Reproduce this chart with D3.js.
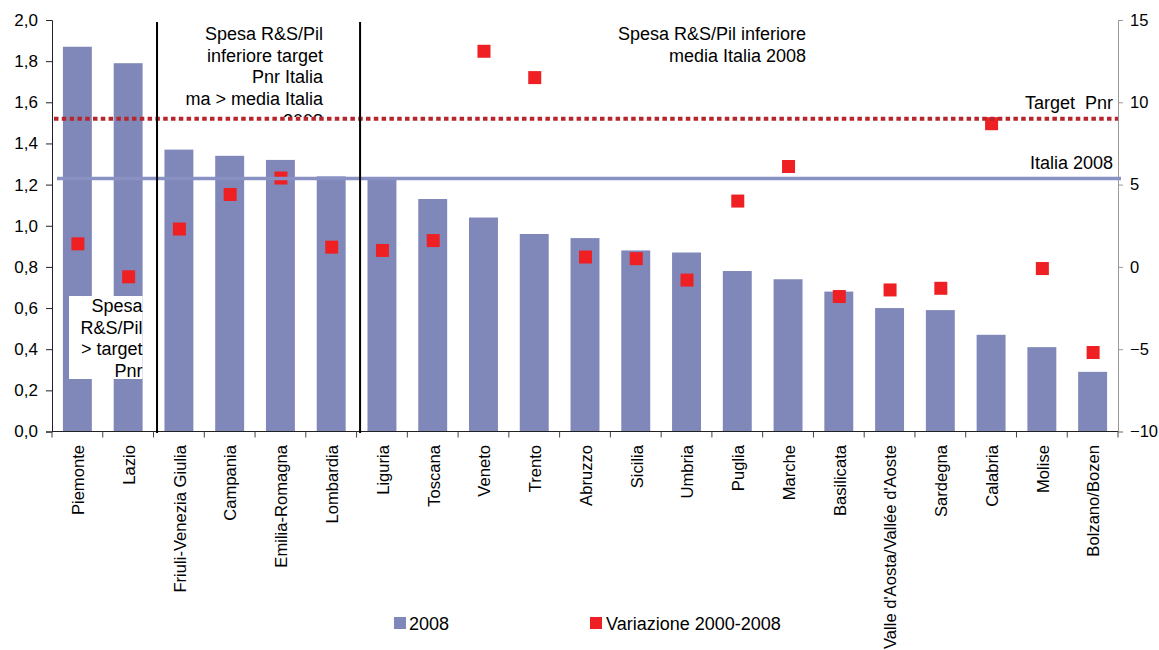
<!DOCTYPE html>
<html><head><meta charset="utf-8">
<script src="https://cdn.jsdelivr.net/npm/d3@7"></script>
<style>body{margin:0;background:#fff}svg{display:block;font-family:"Liberation Sans",Arial,sans-serif}</style>
</head><body><svg id="c" width="1159" height="650"></svg>
<script>
const categories = ["Piemonte","Lazio","Friuli-Venezia Giulia","Campania","Emilia-Romagna","Lombardia","Liguria","Toscana","Veneto","Trento","Abruzzo","Sicilia","Umbria","Puglia","Marche","Basilicata","Valle d'Aosta/Vallée d'Aoste","Sardegna","Calabria","Molise","Bolzano/Bozen"];
const spesa2008 = [1.87,1.79,1.37,1.34,1.32,1.24,1.23,1.13,1.04,0.96,0.94,0.88,0.87,0.78,0.74,0.68,0.60,0.59,0.47,0.41,0.29];
const variazione = [1.4,-0.6,2.3,4.4,5.4,1.2,1.0,1.6,13.1,11.5,0.6,0.5,-0.8,4.0,6.1,-1.8,-1.4,-1.3,8.7,-0.1,-5.2];
const leftTicks = [0,0.2,0.4,0.6,0.8,1.0,1.2,1.4,1.6,1.8,2.0];
const rightTicks = [-10,-5,0,5,10,15];
const italia2008 = 1.23;
const targetPnr = 1.52;
const seriesNames = ["2008","Variazione 2000-2008"];

const svg = d3.select("#c");
const x0 = 52, x1 = 1118, yTop = 20, yBot = 431.5;
const x = d3.scaleBand().domain(categories).range([x0,x1]).paddingInner(0.43).paddingOuter(0.215);
const xb = d3.scaleBand().domain(categories).range([x0,x1]).padding(0);
const yL = d3.scaleLinear().domain([0,2]).range([yBot,yTop]);
const yR = d3.scaleLinear().domain([-10,15]).range([yBot,yTop]);
const fmt = d => d3.format(".1f")(d).replace(".",",");
const barCol = "#8088b9", redCol = "#ee2024", lineCol = "#8a91c3", dotCol = "#b8262b";
const annFs = 18, tickFs = 17, catFs = 16.6;

// bars
svg.append("g").selectAll("rect").data(categories).join("rect")
  .attr("x", d=>x(d)).attr("width", x.bandwidth())
  .attr("y", (d,i)=>yL(spesa2008[i])).attr("height",(d,i)=>yBot-yL(spesa2008[i]))
  .attr("fill", barCol);

// white annotation box bottom-left
svg.append("rect").attr("x",69).attr("y",296).attr("width",x("Lazio")+x.bandwidth()-69).attr("height",83).attr("fill","#fff");
const t1 = svg.append("text").attr("text-anchor","end").attr("font-size",annFs).attr("fill","#000");
["Spesa","R&S/Pil","> target","Pnr"].forEach((s,i)=>t1.append("tspan").attr("x",x("Lazio")+x.bandwidth()).attr("y",312+i*21.7).text(s));

// squares
const sq = 13;
svg.append("g").selectAll("rect").data(categories).join("rect")
  .attr("x", d=>x(d)+x.bandwidth()/2-sq/2+0.5).attr("width", sq)
  .attr("y", (d,i)=>yR(variazione[i])-sq/2).attr("height", sq)
  .attr("fill", redCol);

// left axis
const gL = svg.append("g").attr("transform",`translate(${x0},0)`)
  .call(d3.axisLeft(yL).tickValues(leftTicks).tickFormat(fmt).tickSize(6).tickPadding(8));
gL.select(".domain").attr("stroke","#222");
gL.selectAll(".tick line").attr("stroke","#222");
gL.selectAll("text").attr("font-size",tickFs).attr("fill","#000").attr("font-family","Liberation Sans, Arial, sans-serif");

// right axis
const gR = svg.append("g").attr("transform",`translate(${x1},0)`)
  .call(d3.axisRight(yR).tickValues(rightTicks).tickSize(5).tickPadding(7));
gR.select(".domain").attr("stroke","#999");
gR.selectAll(".tick line").attr("stroke","#999");
gR.selectAll("text").attr("font-size",16.5).attr("fill","#000").attr("font-family","Liberation Sans, Arial, sans-serif");

// x axis
svg.append("line").attr("x1",x0).attr("x2",x1).attr("y1",yBot).attr("y2",yBot).attr("stroke","#222");
const bounds = categories.map(d=>xb(d)).concat([x1]);
svg.append("g").selectAll("line").data(bounds).join("line")
  .attr("x1",d=>d).attr("x2",d=>d).attr("y1",yBot).attr("y2",yBot+6).attr("stroke","#444");
svg.append("g").selectAll("text").data(categories).join("text")
  .attr("transform", d=>`translate(${x(d)+x.bandwidth()/2+1},445) rotate(-90)`)
  .attr("text-anchor","end").attr("dy","0.35em").attr("font-size",catFs).attr("fill","#000").text(d=>d);

// top-middle annotation (clipped)
svg.append("clipPath").attr("id","clipA").append("rect").attr("x",150).attr("y",0).attr("width",220).attr("height",117);
const t2 = svg.append("text").attr("text-anchor","end").attr("font-size",annFs).attr("fill","#000").attr("clip-path","url(#clipA)");
["Spesa R&S/Pil","inferiore target","Pnr Italia","ma > media Italia","2008"].forEach((s,i)=>t2.append("tspan").attr("x",323).attr("y",40+i*21.7).text(s));

// top-right annotation
const t3 = svg.append("text").attr("text-anchor","end").attr("font-size",annFs).attr("fill","#000");
["Spesa R&S/Pil inferiore","media Italia 2008"].forEach((s,i)=>t3.append("tspan").attr("x",806).attr("y",40+i*21.7).text(s));

// reference lines
svg.append("line").attr("x1",57).attr("x2",x1+3).attr("y1",yL(italia2008)).attr("y2",yL(italia2008))
  .attr("stroke",lineCol).attr("stroke-width",3.5);
svg.append("line").attr("x1",54).attr("x2",x1).attr("y1",yL(targetPnr)).attr("y2",yL(targetPnr))
  .attr("stroke",dotCol).attr("stroke-width",4).attr("stroke-dasharray","4.5,3.3");
svg.append("text").attr("x",1113).attr("y",yL(targetPnr)-10).attr("text-anchor","end").attr("font-size",annFs).attr("xml:space","preserve").text("Target  Pnr");
svg.append("text").attr("x",1113).attr("y",yL(italia2008)-9).attr("text-anchor","end").attr("font-size",annFs).text("Italia 2008");

// separators
[2,6].forEach(i=>{
  svg.append("line").attr("x1",bounds[i]+3.5).attr("x2",bounds[i]+3.5).attr("y1",22).attr("y2",yBot+1.5)
    .attr("stroke","#000").attr("stroke-width",2);
});

// legend
const lg = svg.append("g");
lg.append("rect").attr("x",394).attr("y",617).attr("width",12).attr("height",12).attr("fill",barCol);
lg.append("text").attr("x",409).attr("y",629.5).attr("font-size",annFs).text(seriesNames[0]);
lg.append("rect").attr("x",590).attr("y",617).attr("width",12).attr("height",12).attr("fill",redCol);
lg.append("text").attr("x",606).attr("y",629.5).attr("font-size",annFs).text(seriesNames[1]);
</script></body></html>
